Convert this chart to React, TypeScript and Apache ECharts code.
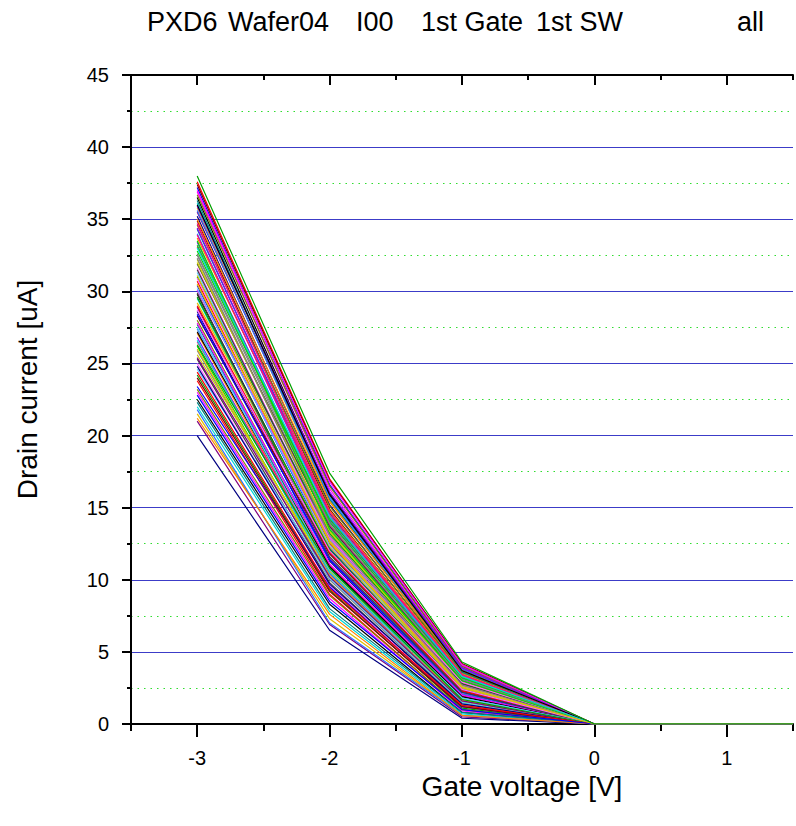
import React, { useEffect, useRef } from "react";
import * as echarts from "echarts";

// Gate voltages at which every curve was measured
const gateVoltages = [-3, -2, -1, 0, 1, 1.5];

// Drain current [uA] of each curve at Vg = -3 V, -2 V, -1 V
const idAtM3 = [
  38.0, 37.6, 37.2, 36.9, 36.5, 36.1, 35.8, 35.5, 35.2, 34.9, 34.6, 34.3, 34.0, 33.7, 33.4, 33.1,
  32.8, 32.5, 32.2, 31.9, 31.6, 31.3, 31.0, 30.7, 30.4, 30.1, 29.8, 29.5, 29.2, 28.9, 28.6, 28.3,
  28.0, 27.7, 27.4, 27.1, 26.8, 26.5, 26.2, 25.9, 25.6, 25.3, 25.0, 24.6, 24.2, 23.8, 23.4, 23.0,
  22.5, 22.0, 21.5, 21.0, 20.0, 37.4, 36.7, 36.3, 35.6, 35.0, 34.4, 33.9, 33.2, 32.6, 32.0, 31.5,
  30.9, 30.2, 29.6, 29.0, 28.4, 27.8, 27.2, 26.6, 26.0, 25.4, 24.8, 24.0, 23.2, 22.3, 21.8, 21.2,
  35.9, 34.7, 33.5, 32.3, 31.1, 29.9, 28.7, 27.5, 26.3, 24.4, 22.8, 37.0, 36.0, 33.0, 30.5,
];
const idAtM2 = [
  17.4, 17.0, 16.6, 16.3, 16.0, 15.8, 15.5, 15.9, 15.2, 14.9, 15.1, 14.6, 14.3, 14.8, 14.1, 13.8,
  14.2, 13.6, 13.3, 13.7, 13.0, 12.8, 13.2, 12.5, 12.2, 12.7, 12.0, 11.8, 12.3, 11.5, 11.3, 11.8,
  11.0, 10.8, 11.4, 10.6, 10.4, 11.0, 10.2, 10.0, 10.6, 9.8, 9.6, 10.1, 9.3, 9.0, 9.5, 8.7,
  8.3, 7.8, 7.3, 6.9, 6.5, 16.9, 16.5, 15.6, 15.7, 15.4, 14.4, 14.5, 14.0, 13.9, 13.4, 12.9,
  12.9, 12.4, 12.1, 11.9, 11.4, 11.1, 10.9, 10.5, 10.3, 10.2, 9.7, 9.2, 8.9, 8.0, 7.0, 7.6,
  16.1, 14.7, 13.5, 13.1, 12.6, 11.6, 12.0, 10.7, 10.8, 9.4, 8.5, 16.8, 15.9, 14.4, 12.7,
];
const idAtM1 = [
  4.3, 4.1, 4.0, 3.9, 3.8, 3.7, 3.6, 3.9, 3.5, 3.4, 3.6, 3.3, 3.2, 3.5, 3.1, 3.0,
  3.3, 2.9, 2.8, 3.0, 2.7, 2.6, 2.8, 2.5, 2.4, 2.7, 2.3, 2.2, 2.5, 2.1, 2.0, 2.3,
  1.9, 1.8, 2.1, 1.7, 1.6, 1.9, 1.5, 1.4, 1.7, 1.3, 1.2, 1.5, 1.1, 1.0, 1.2, 0.9,
  0.8, 0.7, 0.6, 0.5, 0.4, 4.2, 4.0, 3.6, 3.8, 3.7, 3.2, 3.4, 3.2, 3.1, 2.9, 2.8,
  2.9, 2.6, 2.4, 2.3, 2.2, 2.0, 1.9, 1.8, 1.6, 1.6, 1.4, 1.2, 1.0, 0.8, 0.6, 0.6,
  3.9, 3.4, 3.0, 2.7, 2.5, 2.2, 2.4, 1.8, 1.7, 1.3, 1.0, 4.1, 3.7, 3.3, 2.6,
];
// Drain current at Vg = 0 V, 1 V, 1.5 V (off state)
const idOffState = [0, 0, 0];

const xMajorTicks = [-3, -2, -1, 0, 1];

// Title pieces
const titleParts = ["PXD6", "Wafer04", "I00", "1st Gate", "1st SW", "all"];
const titleX = [147, 228, 356, 421, 536, 737];

const palette = [
  "#00a000", "#ff0000", "#0000ff", "#ff00ff", "#000000", "#00d8d8", "#e0c000", "#800080",
  "#000080", "#800000", "#808000", "#008080", "#3070ff", "#ff8000", "#8000ff", "#ff0080",
  "#00e000", "#808080", "#c8c800", "#404040", "#ff60ff", "#60c0ff",
];

export default function App() {
  const ref = useRef<HTMLDivElement>(null);
  useEffect(() => {
    if (!ref.current) return;
    const chart = echarts.init(ref.current, undefined, { renderer: "svg" });
    const font = "'Liberation Sans', Arial, sans-serif";
    const series = idAtM3.map((v, i) => {
      const ys = [v, idAtM2[i], idAtM1[i], ...idOffState];
      return {
        type: "line" as const,
        data: gateVoltages.map((x, k) => [x, ys[k]]),
        symbol: "none",
        z: i === 0 ? 4 : 3,
        lineStyle: { width: 1.2, color: palette[i % palette.length] },
        itemStyle: { color: palette[i % palette.length] },
        silent: true,
      };
    });
    const axisLine = { show: true, onZero: false, lineStyle: { color: "#000", width: 2 } };
    chart.setOption({
      animation: false,
      graphic: titleParts.map((t, i) => ({
        type: "text",
        x: titleX[i],
        y: 22,
        style: {
          text: t,
          fontFamily: font,
          fontSize: 27,
          fill: "#000",
          verticalAlign: "middle",
        },
      })),
      grid: { left: 131, top: 75, width: 668, height: 649, containLabel: false },
      xAxis: [
        {
          type: "value", position: "bottom", min: -3.5, max: 1.5, interval: 0.5,
          axisLine,
          axisTick: { show: true, length: 7, lineStyle: { color: "#000", width: 2 } },
          axisLabel: {
            formatter: (v: number) => (Number.isInteger(v) && v > -3.5 ? String(v) : ""),
            fontFamily: font, fontSize: 20, color: "#000", margin: 24,
          },
          splitLine: { show: false },
          name: "Gate voltage [V]", nameLocation: "middle", nameGap: 42,
          nameTextStyle: { fontFamily: font, fontSize: 28, color: "#000", padding: [0, 0, 0, 120] },
        },
        {
          type: "value", position: "bottom", min: -3.5, max: 1.5,
          axisLine: { show: false, onZero: false },
          axisTick: { show: true, customValues: xMajorTicks, length: 13, lineStyle: { color: "#000", width: 2 } },
          axisLabel: { show: false },
          splitLine: { show: false },
        },
        {
          type: "value", position: "top", min: -3.5, max: 1.5, interval: 0.5,
          axisLine,
          axisTick: { show: true, inside: true, length: 5, lineStyle: { color: "#000", width: 2 } },
          axisLabel: { show: false },
          splitLine: { show: false },
        },
        {
          type: "value", position: "top", min: -3.5, max: 1.5,
          axisLine: { show: false, onZero: false },
          axisTick: { show: true, inside: true, customValues: xMajorTicks, length: 10, lineStyle: { color: "#000", width: 2 } },
          axisLabel: { show: false },
          splitLine: { show: false },
        },
      ],
      yAxis: {
        type: "value", min: 0, max: 45, interval: 5,
        axisLine,
        axisTick: { show: true, length: 9, lineStyle: { color: "#000", width: 2 } },
        minorTick: { show: true, splitNumber: 2, length: 4, lineStyle: { color: "#000", width: 2 } },
        axisLabel: { fontFamily: font, fontSize: 20, color: "#000", margin: 22 },
        splitLine: { show: true, lineStyle: { color: "#3c3cc8", width: 1.2 } },
        minorSplitLine: { show: true, lineStyle: { color: "#30dd30", width: 1.2, type: [1.5, 5] } },
        name: "Drain current [uA]", nameLocation: "middle", nameGap: 90,
        nameTextStyle: { fontFamily: font, fontSize: 28, color: "#000", padding: [0, 0, 0, 20] },
      },
      series,
    });
    return () => chart.dispose();
  }, []);
  return (
    <div
      ref={ref}
      style={{ position: "absolute", left: 0, top: 0, width: 796, height: 826, background: "#fff" }}
    />
  );
}
